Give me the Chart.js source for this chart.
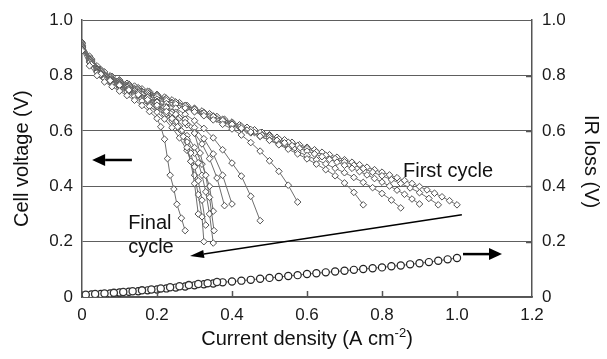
<!DOCTYPE html>
<html>
<head>
<meta charset="utf-8">
<script src="https://cdn.jsdelivr.net/npm/chart.js@4/dist/chart.umd.min.js"></script>
<style>
  html, body { margin: 0; padding: 0; background: #fff; }
  #wrap { width: 607px; height: 359px; }
</style>
</head>
<body>
<div id="wrap"><canvas id="myChart" width="607" height="359"></canvas></div>
<script>
// current grids (A cm-2)
var jA = [0, 0.02, 0.04, 0.06, 0.08, 0.10, 0.12, 0.14, 0.16, 0.18, 0.20, 0.22, 0.24, 0.26, 0.28, 0.30, 0.32, 0.34, 0.36, 0.38, 0.40,
    0.42, 0.44, 0.46, 0.48, 0.50, 0.52, 0.54, 0.56, 0.58, 0.60, 0.62, 0.64, 0.66, 0.68, 0.70, 0.72, 0.74, 0.76, 0.78, 0.80,
    0.82, 0.84, 0.86, 0.88, 0.90, 0.92, 0.94, 0.96, 0.98, 1.00];
var jB = [0, 0.025, 0.05, 0.075, 0.1, 0.125, 0.15, 0.175, 0.2, 0.225, 0.25, 0.275, 0.3, 0.325, 0.35, 0.375, 0.4,
    0.425, 0.45, 0.475, 0.5, 0.525, 0.55, 0.575, 0.6, 0.625, 0.65, 0.675, 0.7, 0.725, 0.75, 0.775, 0.8,
    0.825, 0.85, 0.875, 0.9, 0.925, 0.95, 0.975, 1.0];

// cell voltage per cycle (V)
var vFirst = [0.920, 0.870, 0.835, 0.813, 0.797, 0.784, 0.772, 0.762, 0.752, 0.742, 0.732, 0.722, 0.712, 0.702, 0.692, 0.682,
    0.672, 0.662, 0.652, 0.642, 0.632, 0.622, 0.613, 0.604, 0.595, 0.586, 0.577, 0.568, 0.559, 0.550, 0.541, 0.532, 0.523,
    0.514, 0.505, 0.496, 0.487, 0.478, 0.469, 0.460, 0.451, 0.441, 0.431, 0.421, 0.410, 0.399, 0.387, 0.375, 0.362, 0.348, 0.333];
var v2 = [0.915, 0.858, 0.820, 0.797, 0.781, 0.767, 0.754, 0.742, 0.729, 0.717, 0.704, 0.692, 0.679, 0.667, 0.654, 0.642,
    0.629, 0.617, 0.605, 0.594, 0.583, 0.571, 0.559, 0.547, 0.536, 0.524, 0.512, 0.500, 0.488, 0.476, 0.464, 0.451, 0.438,
    0.424, 0.410, 0.394, 0.377, 0.356, 0.333];
var v3 = [0.910, 0.862, 0.826, 0.804, 0.788, 0.775, 0.763, 0.753, 0.743, 0.733, 0.723, 0.713, 0.703, 0.693, 0.683, 0.673,
    0.663, 0.653, 0.643, 0.633, 0.623, 0.613, 0.603, 0.594, 0.585, 0.576, 0.566, 0.557, 0.547, 0.537, 0.527, 0.517, 0.507,
    0.497, 0.487, 0.476, 0.465, 0.453, 0.441, 0.428, 0.415, 0.401, 0.386, 0.371, 0.354, 0.336];
var v4 = [0.905, 0.850, 0.812, 0.790, 0.774, 0.760, 0.747, 0.735, 0.722, 0.709, 0.697, 0.684, 0.671, 0.658, 0.645, 0.632,
    0.619, 0.606, 0.593, 0.580, 0.567, 0.553, 0.539, 0.525, 0.511, 0.496, 0.481, 0.465, 0.449, 0.432, 0.414, 0.395, 0.374,
    0.350, 0.322];
var v5 = [0.915, 0.860, 0.822, 0.799, 0.783, 0.769, 0.756, 0.743, 0.730, 0.717, 0.704, 0.691, 0.678, 0.665, 0.652, 0.638,
    0.624, 0.610, 0.596, 0.581, 0.566, 0.550, 0.534, 0.517, 0.499, 0.480, 0.460, 0.438, 0.412, 0.378, 0.333];
var v6 = [0.910, 0.855, 0.818, 0.795, 0.778, 0.764, 0.750, 0.737, 0.724, 0.710, 0.697, 0.683, 0.669, 0.655, 0.640, 0.624,
    0.607, 0.585, 0.558, 0.527, 0.492, 0.454, 0.404, 0.343];
var v7 = [0.905, 0.852, 0.815, 0.792, 0.775, 0.760, 0.745, 0.730, 0.715, 0.699, 0.682, 0.660, 0.637, 0.609, 0.575, 0.532,
    0.484, 0.437, 0.364, 0.276];
var v8 = [0.900, 0.848, 0.810, 0.787, 0.770, 0.755, 0.740, 0.724, 0.707, 0.688, 0.667, 0.642, 0.612, 0.572, 0.517, 0.440, 0.336];
var v9 = [0.910, 0.858, 0.823, 0.800, 0.784, 0.770, 0.757, 0.744, 0.731, 0.717, 0.702, 0.686, 0.668, 0.647, 0.622, 0.592,
    0.553, 0.500, 0.430, 0.330];

// later cycles with their own current steps
var j10 = [0, 0.02, 0.04, 0.06, 0.08, 0.10, 0.12, 0.14, 0.16, 0.18, 0.20, 0.22, 0.24, 0.26, 0.28, 0.30, 0.32, 0.34, 0.35];
var v10 = [0.905, 0.855, 0.820, 0.797, 0.780, 0.765, 0.751, 0.737, 0.722, 0.706, 0.688, 0.668, 0.645, 0.617, 0.583, 0.540, 0.480, 0.400, 0.310];
var j11 = [0, 0.02, 0.04, 0.06, 0.08, 0.10, 0.12, 0.14, 0.16, 0.18, 0.20, 0.22, 0.24, 0.26, 0.28, 0.30, 0.31, 0.32, 0.33, 0.34, 0.35];
var v11 = [0.900, 0.850, 0.815, 0.792, 0.775, 0.760, 0.746, 0.732, 0.717, 0.700, 0.682, 0.660, 0.636, 0.606, 0.570, 0.520, 0.485, 0.440, 0.380, 0.300, 0.195];
var j12 = [0, 0.025, 0.05, 0.075, 0.1, 0.125, 0.15, 0.175, 0.2, 0.225, 0.25, 0.275, 0.3, 0.315, 0.33, 0.34, 0.352];
var v12 = [0.900, 0.845, 0.808, 0.785, 0.768, 0.752, 0.737, 0.721, 0.704, 0.684, 0.660, 0.630, 0.592, 0.520, 0.440, 0.360, 0.240];
var j13 = [0, 0.02, 0.04, 0.06, 0.08, 0.10, 0.12, 0.14, 0.16, 0.18, 0.20, 0.22, 0.24, 0.26, 0.28, 0.29, 0.30, 0.31, 0.32, 0.325];
var v13 = [0.900, 0.848, 0.812, 0.789, 0.772, 0.756, 0.741, 0.725, 0.708, 0.689, 0.668, 0.643, 0.612, 0.575, 0.530, 0.490, 0.440, 0.370, 0.290, 0.200];
var j14 = [0, 0.025, 0.05, 0.075, 0.1, 0.125, 0.15, 0.175, 0.2, 0.225, 0.25, 0.265, 0.28, 0.29, 0.30, 0.31, 0.32, 0.33];
var v14 = [0.895, 0.840, 0.803, 0.780, 0.762, 0.745, 0.728, 0.709, 0.688, 0.663, 0.632, 0.600, 0.560, 0.520, 0.470, 0.420, 0.350, 0.260];
var j16 = [0, 0.025, 0.05, 0.075, 0.1, 0.125, 0.15, 0.175, 0.2, 0.225, 0.24, 0.255, 0.27, 0.28, 0.29, 0.30, 0.31];
var v16 = [0.895, 0.840, 0.805, 0.782, 0.765, 0.748, 0.731, 0.713, 0.693, 0.670, 0.645, 0.615, 0.580, 0.540, 0.490, 0.410, 0.300];
var jFinal = [0, 0.02, 0.04, 0.06, 0.08, 0.10, 0.12, 0.14, 0.16, 0.18, 0.20, 0.21, 0.22, 0.228, 0.235, 0.245, 0.253, 0.265, 0.275];
var vFinal = [0.890, 0.835, 0.800, 0.777, 0.760, 0.744, 0.728, 0.711, 0.692, 0.670, 0.645, 0.615, 0.570, 0.500, 0.440, 0.390, 0.335, 0.285, 0.240];

// IR loss (V)
var irLoss = [0.005, 0.009, 0.011, 0.013, 0.016, 0.019, 0.021, 0.024, 0.027, 0.031, 0.034, 0.038, 0.042, 0.046, 0.049, 0.053,
    0.056, 0.059, 0.062, 0.066, 0.069, 0.072, 0.076, 0.079, 0.083, 0.086, 0.089, 0.092, 0.095, 0.098, 0.101, 0.104, 0.107,
    0.111, 0.114, 0.118, 0.122, 0.126, 0.131, 0.136, 0.141];
var jIr2 = [0.01, 0.035, 0.06, 0.085, 0.11, 0.135, 0.16, 0.185, 0.21, 0.235, 0.26, 0.285, 0.31, 0.335, 0.36];
var irLoss2 = [0.008, 0.011, 0.013, 0.015, 0.018, 0.021, 0.024, 0.027, 0.031, 0.035, 0.039, 0.043, 0.047, 0.050, 0.054];

var yTicks = [0, 0.2, 0.4, 0.6, 0.8, 1.0];
var xTicks = [0, 0.2, 0.4, 0.6, 0.8, 1.0, 1.2];

function pts(xs, ys) {
    var out = [];
    for (var i = 0; i < ys.length; i++) {
        out.push({ x: xs[i], y: ys[i] });
    }
    return out;
}

var polCurves = [
    [jA, vFirst], [jB, v2], [jA, v3], [jB, v4], [jB, v5], [jB, v6], [jB, v7], [jB, v8], [jA, v9],
    [j10, v10], [j11, v11], [j12, v12], [j13, v13], [j14, v14], [j16, v16], [jFinal, vFinal]
];

var datasets = [];
for (var k = polCurves.length - 1; k >= 0; k--) {
    datasets.push({
        data: pts(polCurves[k][0], polCurves[k][1]),
        yAxisID: 'y',
        showLine: true,
        borderColor: '#6e6e6e',
        borderWidth: 1,
        pointStyle: 'rectRot',
        pointRadius: 3.3,
        pointBackgroundColor: '#fff',
        pointBorderColor: '#505050',
        pointBorderWidth: 1
    });
}
datasets.push({
    data: pts(jIr2, irLoss2),
    yAxisID: 'y2',
    showLine: false,
    pointStyle: 'circle',
    pointRadius: 3.6,
    pointBackgroundColor: '#fff',
    pointBorderColor: '#333',
    pointBorderWidth: 1.3
});
datasets.push({
    data: pts(jB, irLoss),
    yAxisID: 'y2',
    showLine: true,
    borderColor: '#444',
    borderWidth: 0.8,
    pointStyle: 'circle',
    pointRadius: 3.6,
    pointBackgroundColor: '#fff',
    pointBorderColor: '#222',
    pointBorderWidth: 1.2
});

function fmt(v) {
    if (Math.abs(v) < 1e-9) return '0';
    return v.toFixed(1);
}

function arrow(ctx, x1, y1, x2, y2, w, headLen, headHalf) {
    var a = Math.atan2(y2 - y1, x2 - x1);
    var bx = x2 - headLen * Math.cos(a), by = y2 - headLen * Math.sin(a);
    ctx.beginPath();
    ctx.lineWidth = w;
    ctx.moveTo(x1, y1);
    ctx.lineTo(bx, by);
    ctx.stroke();
    ctx.beginPath();
    ctx.moveTo(x2, y2);
    ctx.lineTo(bx - headHalf * Math.sin(a), by + headHalf * Math.cos(a));
    ctx.lineTo(bx + headHalf * Math.sin(a), by - headHalf * Math.cos(a));
    ctx.closePath();
    ctx.fill();
}

var decor = {
    id: 'decor',
    afterDraw: function (chart) {
        var ctx = chart.ctx;
        var xs = chart.scales.x, ys = chart.scales.y;
        var area = chart.chartArea;
        ctx.save();
        ctx.strokeStyle = '#555';
        ctx.lineWidth = 1.5;
        // inward tick marks
        for (var i = 1; i < xTicks.length - 1; i++) {
            var px = Math.round(xs.getPixelForValue(xTicks[i])) + 0.5;
            ctx.beginPath();
            ctx.moveTo(px, area.bottom);
            ctx.lineTo(px, area.bottom - 6);
            ctx.stroke();
        }
        for (var t = 1; t < yTicks.length - 1; t++) {
            var py = Math.round(ys.getPixelForValue(yTicks[t])) + 0.5;
            ctx.beginPath();
            ctx.moveTo(area.right, py);
            ctx.lineTo(area.right - 6, py);
            ctx.stroke();
        }

        // arrows
        ctx.strokeStyle = '#000';
        ctx.fillStyle = '#000';
        var yL = ys.getPixelForValue(0.495);
        arrow(ctx, xs.getPixelForValue(0.133), yL, xs.getPixelForValue(0.027), yL, 2.5, 13, 6);
        var yR = ys.getPixelForValue(0.155);
        arrow(ctx, xs.getPixelForValue(1.016), yR, xs.getPixelForValue(1.12), yR, 2.5, 13, 6);
        arrow(ctx, xs.getPixelForValue(1.013), ys.getPixelForValue(0.297),
            xs.getPixelForValue(0.288), ys.getPixelForValue(0.148), 1.4, 14, 4);

        // annotations
        ctx.fillStyle = '#111';
        ctx.font = '20px "Liberation Sans", Arial, sans-serif';
        ctx.textAlign = 'left';
        ctx.textBaseline = 'alphabetic';
        ctx.fillText('First cycle', xs.getPixelForValue(0.856), ys.getPixelForValue(0.435));
        ctx.fillText('Final', xs.getPixelForValue(0.123), ys.getPixelForValue(0.247));
        ctx.fillText('cycle', xs.getPixelForValue(0.123), ys.getPixelForValue(0.159));

        // axis titles
        var cy = (area.top + area.bottom) / 2;
        ctx.textAlign = 'center';
        ctx.textBaseline = 'middle';
        ctx.save();
        ctx.translate(22, cy);
        ctx.rotate(-Math.PI / 2);
        ctx.fillText('Cell voltage (V)', 0, 0);
        ctx.restore();
        ctx.save();
        ctx.translate(591, cy + 3);
        ctx.rotate(Math.PI / 2);
        ctx.fillText('IR loss (V)', 0, 0);
        ctx.restore();

        var main = 'Current density (A cm';
        ctx.textBaseline = 'alphabetic';
        ctx.textAlign = 'left';
        var w1 = ctx.measureText(main).width;
        ctx.font = '13px "Liberation Sans", Arial, sans-serif';
        var w2 = ctx.measureText('-2').width;
        ctx.font = '20px "Liberation Sans", Arial, sans-serif';
        var w3 = ctx.measureText(')').width;
        var cx = (area.left + area.right) / 2;
        var x0 = cx - (w1 + w2 + w3) / 2;
        var base = 345;
        ctx.fillText(main, x0, base);
        ctx.fillText(')', x0 + w1 + w2, base);
        ctx.font = '13px "Liberation Sans", Arial, sans-serif';
        ctx.fillText('-2', x0 + w1, base - 8);
        ctx.restore();
    }
};

Chart.defaults.font.family = '"Liberation Sans", Arial, sans-serif';
Chart.defaults.font.size = 17;
Chart.defaults.color = '#1a1a1a';

var ctx = document.getElementById('myChart').getContext('2d');
var myChart = new Chart(ctx, {
    type: 'scatter',
    data: { datasets: datasets },
    options: {
        responsive: false,
        animation: false,
        layout: { padding: { top: 14, left: 0, right: 0, bottom: 0 } },
        plugins: {
            legend: { display: false },
            tooltip: { enabled: false }
        },
        scales: {
            x: {
                type: 'linear',
                min: 0,
                max: 1.2,
                afterBuildTicks: function (s) { s.ticks = xTicks.map(function (v) { return { value: v }; }); },
                ticks: { callback: fmt, padding: 8, maxRotation: 0 },
                grid: { drawOnChartArea: false, drawTicks: false },
                border: { color: '#555', width: 1.5 },
                afterFit: function (s) { s.height = 62; }
            },
            y: {
                position: 'left',
                min: 0,
                max: 1,
                afterBuildTicks: function (s) { s.ticks = yTicks.map(function (v) { return { value: v }; }); },
                ticks: { callback: fmt, padding: 9 },
                grid: { color: '#5e5e5e', lineWidth: 1, drawTicks: false },
                border: { color: '#555', width: 1.5 },
                afterFit: function (s) { s.width = 82; }
            },
            y2: {
                position: 'right',
                min: 0,
                max: 1,
                afterBuildTicks: function (s) { s.ticks = yTicks.map(function (v) { return { value: v }; }); },
                ticks: { callback: fmt, padding: 10 },
                grid: { drawOnChartArea: false, drawTicks: false },
                border: { color: '#555', width: 1.5 },
                afterFit: function (s) { s.width = 75; }
            }
        }
    },
    plugins: [decor]
});
</script>
</body>
</html>
